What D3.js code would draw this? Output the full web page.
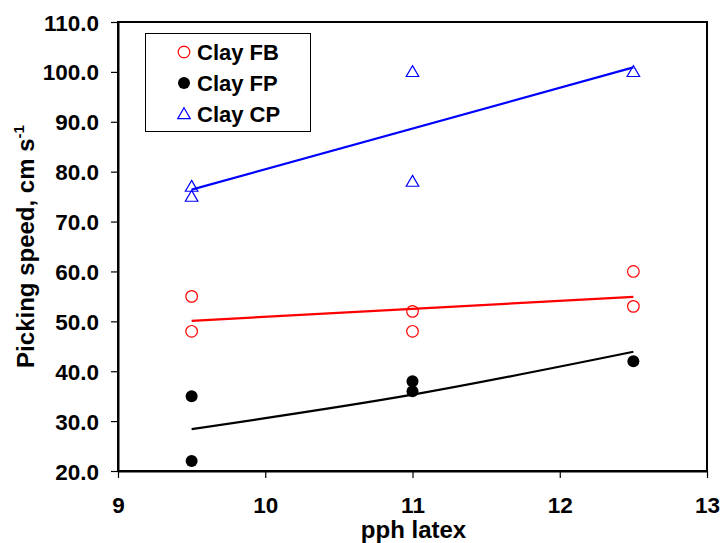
<!DOCTYPE html>
<html><head><meta charset="utf-8">
<script src="https://cdn.jsdelivr.net/npm/d3@7"></script>
<style>body{margin:0;background:#fff}svg{display:block;font-family:"Liberation Sans",Arial,sans-serif;font-weight:bold}</style>
</head><body><svg id="c" width="722" height="543"></svg>
<script>
const xTicks = [9, 10, 11, 12, 13];
const yTicks = [20, 30, 40, 50, 60, 70, 80, 90, 100, 110];
const fbPoints = [[9.5, 55], [9.5, 48], [11, 52], [11, 48], [12.5, 60], [12.5, 53]];
const fpPoints = [[9.5, 35], [9.5, 22], [11, 38], [11, 36], [12.5, 42]];
const cpPoints = [[9.5, 77], [9.5, 75], [11, 100], [11, 78], [12.5, 100]];
const fbFit = [[9.5, 50.1], [12.5, 54.9]];
const fpFit = [[9.5, 28.4], [11, 35.3], [12.5, 43.9]];
const cpFit = [[9.5, 76.4], [12.5, 100.9]];
const legendLabels = ["Clay FB", "Clay FP", "Clay CP"];

const svg = d3.select("#c");
const L = 118, R = 707, T = 22, B = 471;
const FS = 22.5, TFS = 24;
const x = d3.scaleLinear().domain([9, 13]).range([L, R]);
const y = d3.scaleLinear().domain([20, 110]).range([B, T]);

svg.append("rect").attr("x", L).attr("y", T).attr("width", R - L).attr("height", B - T)
  .attr("fill", "none").attr("stroke", "#000").attr("stroke-width", 2);

const yAxis = svg.append("g").attr("transform", `translate(${L},0)`)
  .call(d3.axisLeft(y).tickValues(yTicks).tickFormat(d3.format(".1f")).tickSize(7).tickPadding(12).tickSizeOuter(0));
yAxis.select(".domain").attr("stroke-width", 2);
yAxis.selectAll("text").attr("font-size", FS).attr("font-weight", "bold").attr("fill", "#000").attr("dy", "0.36em");
yAxis.selectAll("line").attr("stroke-width", 1.2);

const xAxis = svg.append("g").attr("transform", `translate(0,${B})`)
  .call(d3.axisBottom(x).tickValues(xTicks).tickFormat(d3.format("d")).tickSize(7).tickSizeOuter(0));
xAxis.select(".domain").attr("stroke-width", 2);
xAxis.selectAll("text").attr("font-size", FS).attr("font-weight", "bold").attr("fill", "#000")
  .attr("y", 42).attr("dy", 0);
xAxis.selectAll("line").attr("stroke-width", 1.2);

svg.append("text").attr("x", (L + R) / 2 + 1).attr("y", 538).attr("text-anchor", "middle")
  .attr("font-size", TFS).text("pph latex");

const yt = svg.append("text").attr("transform", `translate(34,${(T + B) / 2}) rotate(-90)`)
  .attr("text-anchor", "middle").attr("font-size", TFS);
yt.append("tspan").text("Picking speed, cm s");
yt.append("tspan").attr("dy", -10).attr("font-size", 15).text("-1");

const line = d3.line().x(d => x(d[0])).y(d => y(d[1])).curve(d3.curveMonotoneX);
svg.append("path").attr("d", line(cpFit)).attr("fill", "none").attr("stroke", "#0000ff").attr("stroke-width", 2.2);
svg.append("path").attr("d", line(fbFit)).attr("fill", "none").attr("stroke", "#ff0000").attr("stroke-width", 2.2);
svg.append("path").attr("d", line(fpFit)).attr("fill", "none").attr("stroke", "#000").attr("stroke-width", 2.2);

const tri = d3.symbol().type(d3.symbolTriangle).size(68);
function drawFB(g, cx, cy) { g.append("circle").attr("cx", cx).attr("cy", cy).attr("r", 5.8).attr("fill", "none").attr("stroke", "#ff0000").attr("stroke-width", 1.2); }
function drawFP(g, cx, cy) { g.append("circle").attr("cx", cx).attr("cy", cy).attr("r", 6).attr("fill", "#000"); }
function drawCP(g, cx, cy) { g.append("path").attr("d", tri()).attr("transform", `translate(${cx},${cy + 1})`).attr("fill", "none").attr("stroke", "#0000ff").attr("stroke-width", 1.2); }

const pts = svg.append("g");
fbPoints.forEach(d => drawFB(pts, x(d[0]), y(d[1])));
fpPoints.forEach(d => drawFP(pts, x(d[0]), y(d[1])));
cpPoints.forEach(d => drawCP(pts, x(d[0]), y(d[1])));

const lg = svg.append("g");
lg.append("rect").attr("x", 145.5).attr("y", 33.5).attr("width", 165).attr("height", 98)
  .attr("fill", "#fff").attr("stroke", "#000").attr("stroke-width", 1);
const drawers = [drawFB, drawFP, drawCP];
const rowY = [52, 83, 114];
legendLabels.forEach((t, i) => {
  const cy = rowY[i];
  drawers[i](lg, 184, cy);
  lg.append("text").attr("x", 197).attr("y", cy + 8).attr("font-size", 22).text(t);
});
</script></body></html>
